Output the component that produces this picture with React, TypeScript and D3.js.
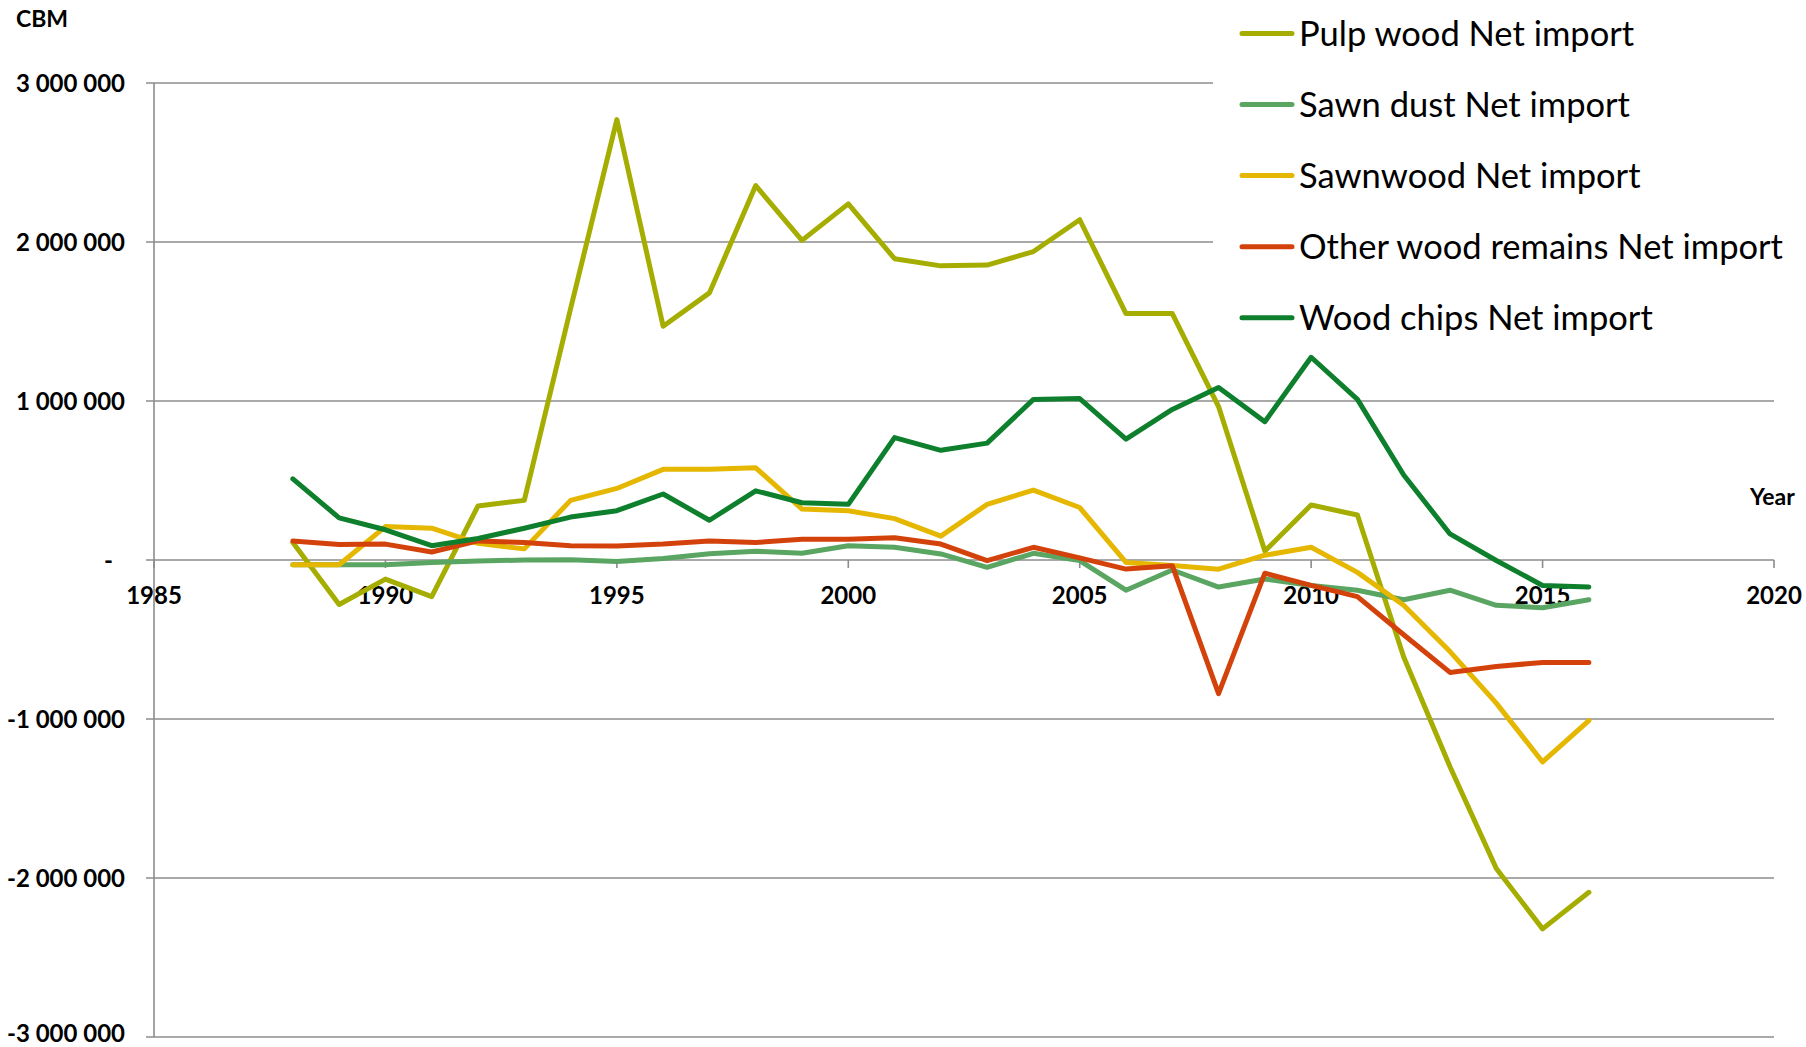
import React from "react";
import * as d3 from "d3";

const years = [1988,1989,1990,1991,1992,1993,1994,1995,1996,1997,1998,1999,2000,2001,2002,2003,2004,2005,2006,2007,2008,2009,2010,2011,2012,2013,2014,2015,2016];

const pulpWood = [0.11,-0.28,-0.12,-0.23,0.34,0.375,1.58,2.77,1.47,1.68,2.355,2.01,2.24,1.895,1.85,1.855,1.94,2.14,1.55,1.55,0.965,0.056,0.346,0.283,-0.61,-1.30,-1.94,-2.32,-2.09];
const sawnDust = [-0.03,-0.03,-0.03,-0.016,-0.007,0,0.002,-0.01,0.01,0.04,0.055,0.042,0.09,0.08,0.038,-0.046,0.042,-0.004,-0.19,-0.063,-0.17,-0.12,-0.16,-0.19,-0.25,-0.19,-0.285,-0.30,-0.25];
const sawnwood = [-0.03,-0.03,0.21,0.20,0.105,0.07,0.375,0.45,0.57,0.57,0.58,0.32,0.31,0.26,0.15,0.35,0.44,0.33,-0.015,-0.035,-0.058,0.03,0.08,-0.078,-0.285,-0.576,-0.90,-1.27,-1.01];
const otherWood = [0.12,0.097,0.10,0.05,0.12,0.11,0.09,0.088,0.10,0.12,0.11,0.13,0.13,0.14,0.10,-0.004,0.08,0.013,-0.057,-0.036,-0.84,-0.083,-0.16,-0.23,-0.47,-0.707,-0.67,-0.644,-0.644];
const woodChips = [0.51,0.265,0.19,0.09,0.135,0.20,0.27,0.31,0.415,0.25,0.435,0.36,0.35,0.77,0.69,0.735,1.01,1.015,0.76,0.947,1.085,0.87,1.275,1.01,0.535,0.164,-0.003,-0.16,-0.17];

const seriesNames = ["Pulp wood Net import","Sawn dust Net import","Sawnwood Net import","Other wood remains Net import","Wood chips Net import"];
const seriesValues = [pulpWood, sawnDust, sawnwood, otherWood, woodChips];
const seriesColors = ["#A5AE00","#5AA562","#E5B700","#D4420C","#0E7F2C"];

const xTicks = [1985,1990,1995,2000,2005,2010,2015,2020];
const yTicks = [3000000,2000000,1000000,0,-1000000,-2000000,-3000000];
const yTickLabels = ["3 000 000","2 000 000","1 000 000","-","-1 000 000","-2 000 000","-3 000 000"];

const FONT = "Lato, 'Open Sans', sans-serif";

export default function App() {
  const W = 1806, H = 1047;
  const x = d3.scaleLinear().domain([1985, 2020]).range([154, 1774]);
  const y = d3.scaleLinear().domain([-3000000, 3000000]).range([1037, 83]);
  const line = d3.line<[number, number]>()
    .x(d => x(d[0]))
    .y(d => y(d[1] * 1000000));
  const gridColor = "#8c8c8c";

  return (
    <svg width={W} height={H} style={{ position: "absolute", left: 0, top: 0, background: "#fff" }}
      fontFamily={FONT}>
      <rect x={0} y={0} width={W} height={H} fill="#fff" />
      {/* gridlines */}
      {yTicks.map((t, i) => (
        <line key={"g" + i} x1={146} x2={x(2020)} y1={y(t)} y2={y(t)} stroke={gridColor} strokeWidth={1.6} />
      ))}
      {/* y axis */}
      <line x1={x(1985)} x2={x(1985)} y1={y(3000000)} y2={y(-3000000)} stroke={gridColor} strokeWidth={1.6} />
      {/* x ticks */}
      {xTicks.map((t, i) => (
        <line key={"xt" + i} x1={x(t)} x2={x(t)} y1={y(0)} y2={y(0) + 8} stroke={gridColor} strokeWidth={1.6} />
      ))}
      {/* y labels */}
      {yTicks.map((t, i) => (
        <text key={"yl" + i} x={i === 3 ? 113 : 125} y={Math.min(y(t), H - 14)} dy="0.36em" textAnchor="end"
          fontWeight="bold" fontSize={24} fill="#000">{yTickLabels[i]}</text>
      ))}
      {/* x labels */}
      {xTicks.map((t, i) => (
        <text key={"xl" + i} x={x(t)} y={604} textAnchor="middle" fontWeight="bold" fontSize={24} fill="#000">{t}</text>
      ))}
      <text x={16} y={27} fontWeight="bold" fontSize={23} fill="#000">CBM</text>
      <text x={1750} y={505} fontWeight="bold" fontSize={23} fill="#000">Year</text>
      {/* series */}
      {seriesValues.map((vals, si) => (
        <path key={"s" + si} d={line(years.map((yr, j) => [yr, vals[j]] as [number, number])) || ""}
          fill="none" stroke={seriesColors[si]} strokeWidth={5} strokeLinejoin="round" strokeLinecap="round" />
      ))}
      {/* legend */}
      <rect x={1213} y={0} width={W - 1213} height={345} fill="#fff" />
      {seriesNames.map((n, i) => {
        const cy = 33.4 + i * 71.1;
        return (
          <g key={"lg" + i}>
            <line x1={1242} x2={1292} y1={cy} y2={cy} stroke={seriesColors[i]} strokeWidth={5} strokeLinecap="round" />
            <text x={1299} y={cy + 12.5} fontSize={34.5} fill="#000">{n}</text>
          </g>
        );
      })}
    </svg>
  );
}
